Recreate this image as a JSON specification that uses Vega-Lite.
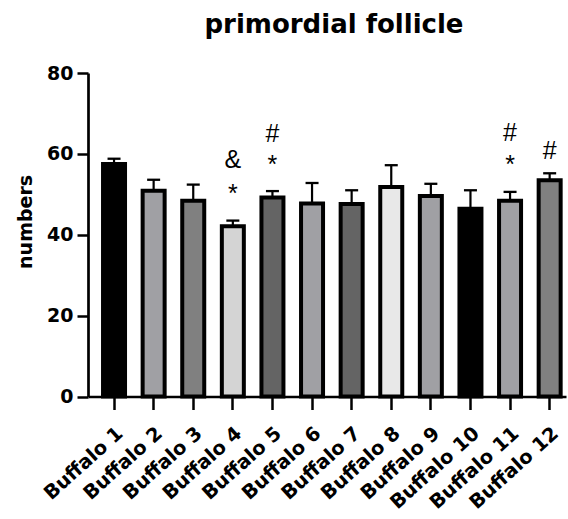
{
  "$schema": "https://vega.github.io/schema/vega-lite/v6.json",
  "autosize": {"type": "none"},
  "padding": {"left": 88, "top": 73, "right": 2, "bottom": 122},
  "width": 478,
  "height": 323.5,
  "background": "white",
  "config": {"view": {"stroke": null}},
  "title": {
    "text": "primordial follicle",
    "font": "DejaVu Sans",
    "fontSize": 26,
    "fontWeight": "bold",
    "color": "black",
    "anchor": "middle",
    "dx": 7,
    "offset": 26
  },
  "datasets": {
    "bars": [
      {"buffalo": "Buffalo 1", "value": 57.5, "upper": 58.8, "shade": "c1"},
      {"buffalo": "Buffalo 2", "value": 50.9, "upper": 53.6, "shade": "c2"},
      {"buffalo": "Buffalo 3", "value": 48.4, "upper": 52.4, "shade": "c3"},
      {"buffalo": "Buffalo 4", "value": 42.1, "upper": 43.5, "shade": "c4"},
      {"buffalo": "Buffalo 5", "value": 49.2, "upper": 50.8, "shade": "c5"},
      {"buffalo": "Buffalo 6", "value": 47.7, "upper": 52.8, "shade": "c2"},
      {"buffalo": "Buffalo 7", "value": 47.6, "upper": 51.0, "shade": "c5"},
      {"buffalo": "Buffalo 8", "value": 51.8, "upper": 57.2, "shade": "c6"},
      {"buffalo": "Buffalo 9", "value": 49.6, "upper": 52.6, "shade": "c2"},
      {"buffalo": "Buffalo 10", "value": 46.4, "upper": 51.0, "shade": "c1"},
      {"buffalo": "Buffalo 11", "value": 48.4, "upper": 50.6, "shade": "c2"},
      {"buffalo": "Buffalo 12", "value": 53.5, "upper": 55.2, "shade": "c3"}
    ],
    "marks": [
      {"buffalo": "Buffalo 4", "symbol": "&", "level": 56.5},
      {"buffalo": "Buffalo 4", "symbol": "*", "level": 48.1},
      {"buffalo": "Buffalo 5", "symbol": "#", "level": 63.0},
      {"buffalo": "Buffalo 5", "symbol": "*", "level": 55.3},
      {"buffalo": "Buffalo 11", "symbol": "#", "level": 63.2},
      {"buffalo": "Buffalo 11", "symbol": "*", "level": 55.3},
      {"buffalo": "Buffalo 12", "symbol": "#", "level": 58.7}
    ]
  },
  "encoding": {
    "x": {
      "field": "buffalo",
      "type": "nominal",
      "sort": null,
      "scale": {
        "domain": ["Buffalo 1", "Buffalo 2", "Buffalo 3", "Buffalo 4", "Buffalo 5", "Buffalo 6", "Buffalo 7", "Buffalo 8", "Buffalo 9", "Buffalo 10", "Buffalo 11", "Buffalo 12"],
        "paddingInner": 0.44,
        "paddingOuter": 0.255,
        "align": 0.74
      },
      "axis": {
        "title": null,
        "labelAngle": -42,
        "labelAlign": "right",
        "labelBaseline": "top",
        "labelFont": "DejaVu Sans",
        "labelFontSize": 19.5,
        "labelFontWeight": "bold",
        "labelColor": "black",
        "labelPadding": 14,
        "labelOverlap": false,
        "labelBound": false,
        "domainColor": "black",
        "domainWidth": 2.7,
        "tickColor": "black",
        "tickWidth": 2.5,
        "tickSize": 13,
        "grid": false
      }
    }
  },
  "layer": [
    {
      "data": {"name": "bars"},
      "mark": {"type": "bar", "stroke": "black", "strokeWidth": 4, "width": 22},
      "encoding": {
        "y": {
          "field": "value",
          "type": "quantitative",
          "scale": {"domain": [0, 80], "nice": false},
          "axis": {
            "title": "numbers",
            "titleFont": "DejaVu Sans",
            "titleFontSize": 19,
            "titleFontWeight": "bold",
            "titleColor": "black",
            "titleAngle": -90,
            "titleAlign": "center",
            "titleBaseline": "alphabetic",
            "titleX": -57,
            "titleY": 148.4,
            "values": [0, 20, 40, 60, 80],
            "labelFont": "DejaVu Sans",
            "labelFontSize": 19,
            "labelFontWeight": "bold",
            "labelColor": "black",
            "labelPadding": 4,
            "domainColor": "black",
            "domainWidth": 2.7,
            "tickColor": "black",
            "tickWidth": 2.5,
            "tickSize": 11,
            "grid": false
          }
        },
        "fill": {
          "field": "shade",
          "type": "nominal",
          "scale": {
            "domain": ["c1", "c2", "c3", "c4", "c5", "c6"],
            "range": ["#000000", "#a0a0a4", "#808080", "#d4d4d4", "#646464", "#e8e8e8"]
          },
          "legend": null
        }
      }
    },
    {
      "data": {"name": "bars"},
      "mark": {"type": "rule", "color": "black", "strokeWidth": 2.2},
      "encoding": {
        "y": {"field": "value", "type": "quantitative"},
        "y2": {"field": "upper"}
      }
    },
    {
      "data": {"name": "bars"},
      "mark": {"type": "tick", "color": "black", "size": 13, "thickness": 2.3, "orient": "horizontal", "opacity": 1},
      "encoding": {
        "y": {"field": "upper", "type": "quantitative"}
      }
    },
    {
      "data": {"name": "marks"},
      "mark": {"type": "text", "font": "Liberation Sans", "fontSize": 25, "color": "black", "baseline": "alphabetic", "align": "center"},
      "encoding": {
        "y": {"field": "level", "type": "quantitative"},
        "text": {"field": "symbol"}
      }
    }
  ]
}
